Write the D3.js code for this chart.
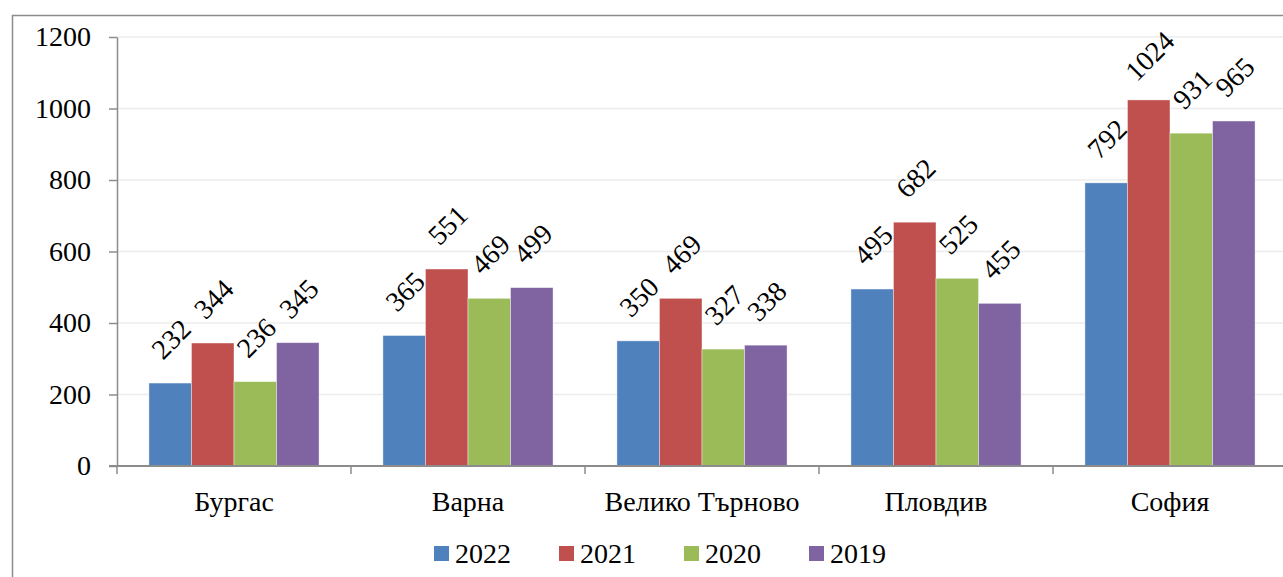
<!DOCTYPE html>
<html>
<head>
<meta charset="utf-8">
<script src="https://cdn.jsdelivr.net/npm/d3@7/dist/d3.min.js"></script>
<style>
  body { margin: 0; background: #fff; }
  svg text { font-family: "Liberation Serif", "Times New Roman", serif !important; fill: #000; }
</style>
</head>
<body>
<svg id="chart" width="1283" height="577"></svg>
<script>
var cities = ['Бургас', 'Варна', 'Велико Търново', 'Пловдив', 'София'];
var years = ['2022', '2021', '2020', '2019'];
var colors = ['#4F81BD', '#C0504D', '#9BBB59', '#8064A2'];
var v2022 = [232, 365, 350, 495, 792];
var v2021 = [344, 551, 469, 682, 1024];
var v2020 = [236, 469, 327, 525, 931];
var v2019 = [345, 499, 338, 455, 965];
var yTicks = [0, 200, 400, 600, 800, 1000, 1200];

var series = [v2022, v2021, v2020, v2019];

var svg = d3.select('#chart');

// outer frame
svg.append('rect')
    .attr('x', 12.5)
    .attr('y', 15.5)
    .attr('width', 1400)
    .attr('height', 700)
    .attr('fill', 'none')
    .attr('stroke', '#8c8c8c')
    .attr('stroke-width', 1.5);

var plotLeft = 117, plotTop = 37, plotBottom = 466, plotRight = 1287;

var x = d3.scaleBand()
    .domain(cities)
    .range([plotLeft, plotRight])
    .paddingInner(0.273)
    .paddingOuter(0.1365);

var xs = d3.scaleBand()
    .domain(years)
    .range([0, x.bandwidth()]);

var y = d3.scaleLinear()
    .domain([0, 1200])
    .range([plotBottom, plotTop]);

// gridlines
svg.append('g')
    .selectAll('line')
    .data(yTicks.slice(1))
    .enter()
    .append('line')
    .attr('x1', plotLeft)
    .attr('x2', 1283)
    .attr('y1', function(d) { return y(d); })
    .attr('y2', function(d) { return y(d); })
    .attr('stroke', '#ececec')
    .attr('stroke-width', 1.5);

// bars
var groups = svg.append('g')
    .selectAll('g')
    .data(cities)
    .enter()
    .append('g')
    .attr('transform', function(d) { return 'translate(' + x(d) + ',0)'; });

groups.selectAll('rect')
    .data(function(d, i) {
        return years.map(function(yr, j) { return { year: yr, value: series[j][i], color: colors[j] }; });
    })
    .enter()
    .append('rect')
    .attr('x', function(d) { return xs(d.year); })
    .attr('y', function(d) { return y(d.value); })
    .attr('width', xs.bandwidth())
    .attr('height', function(d) { return plotBottom - y(d.value); })
    .attr('fill', function(d) { return d.color; })
    .attr('stroke', 'rgba(255,255,255,0.5)')
    .attr('stroke-width', 0.8);

// value labels, rotated
groups.selectAll('text.val')
    .data(function(d, i) {
        return years.map(function(yr, j) { return { year: yr, value: series[j][i] }; });
    })
    .enter()
    .append('text')
    .attr('class', 'val')
    .attr('transform', function(d) {
        var cx = xs(d.year) + xs.bandwidth() / 2 + 1;
        var cy = y(d.value) - 44;
        return 'translate(' + cx + ',' + cy + ') rotate(-45)';
    })
    .attr('text-anchor', 'middle')
    .attr('dominant-baseline', 'central')
    .style('font-size', '28px')
    .text(function(d) { return d.value; });

// y axis
var yAxis = svg.append('g')
    .attr('transform', 'translate(' + plotLeft + ',0)')
    .call(d3.axisLeft(y).tickValues(yTicks).tickFormat(d3.format('d')).tickSize(8).tickPadding(18).tickSizeOuter(0));

yAxis.select('.domain').attr('stroke', '#8c8c8c').attr('stroke-width', 1.5);
yAxis.selectAll('.tick line').attr('stroke', '#8c8c8c').attr('stroke-width', 1.5);
yAxis.selectAll('.tick text')
    .style('font-size', '28px');

// x axis
svg.append('line')
    .attr('x1', plotLeft - 8)
    .attr('x2', 1283)
    .attr('y1', plotBottom)
    .attr('y2', plotBottom)
    .attr('stroke', '#8c8c8c')
    .attr('stroke-width', 2);

var step = x.step();
svg.append('g')
    .selectAll('line')
    .data(d3.range(cities.length + 1))
    .enter()
    .append('line')
    .attr('x1', function(i) { return plotLeft + i * step; })
    .attr('x2', function(i) { return plotLeft + i * step; })
    .attr('y1', plotBottom)
    .attr('y2', plotBottom + 8)
    .attr('stroke', '#8c8c8c')
    .attr('stroke-width', 1.5);

svg.append('g')
    .selectAll('text')
    .data(cities)
    .enter()
    .append('text')
    .attr('x', function(d) { return x(d) + x.bandwidth() / 2; })
    .attr('y', 511)
    .attr('text-anchor', 'middle')
    .style('font-size', '28px')
    .text(function(d) { return d; });

// legend
var legend = svg.append('g')
    .selectAll('g')
    .data(years)
    .enter()
    .append('g')
    .attr('transform', function(d, i) { return 'translate(' + (434 + i * 125) + ',546)'; });

legend.append('rect')
    .attr('width', 15)
    .attr('height', 15)
    .attr('fill', function(d, i) { return colors[i]; });

legend.append('text')
    .attr('x', 21)
    .attr('y', 17)
    .style('font-size', '28px')
    .text(function(d) { return d; });
</script>
</body>
</html>
